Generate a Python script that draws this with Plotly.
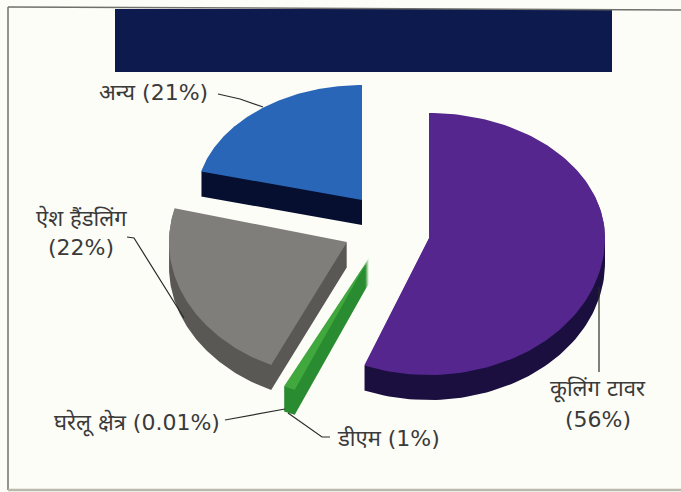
import numpy as np
import plotly.graph_objects as go

# Data
categories = ["कूलिंग टावर", "डीएम", "घरेलू क्षेत्र", "ऐश हैंडलिंग", "अन्य"]
shares = [56, 1, 0.01, 22, 21]
share_labels = ["56%", "1%", "0.01%", "22%", "21%"]

# Styles
top_colors = ["#55268e", "#41a83e", "#41a83e", "#807e7b", "#2a66b8"]
side_colors = ["#1b0f3f", "#2a8c30", "#2a8c30", "#5a5854", "#060f30"]
centres = [(429, 238), (369, 258), (369, 258), (347, 242), (362, 200)]
# horizontal radius, upward radius, downward radius (perspective of the tilted pie)
radii = [(176, 125, 137), (200, 142, 142), (200, 142, 142), (178, 136, 136), (166, 115, 115)]
DEPTH = 25
W, H = 681, 492


def wedge(cx, cy, a, b_up, b_down, start, end, shift=0):
    t = np.radians(np.linspace(start, end, 120))
    c = np.cos(t)
    xs = np.concatenate([[cx], cx + a * np.sin(t), [cx]])
    ys = np.concatenate([[cy], cy - np.where(c > 0, b_up, b_down) * c, [cy]]) + shift
    return xs, ys


fig = go.Figure()
edges = np.cumsum([0] + shares) / sum(shares) * 360

# Extruded sides first, so that no side covers a neighbouring top face
for i, name in enumerate(categories):
    cx, cy = centres[i]
    a, bu, bd = radii[i]
    sx, sy = [], []
    for d in range(1, DEPTH + 1):
        xs, ys = wedge(cx, cy, a, bu, bd, edges[i], edges[i + 1], d)
        sx += list(xs) + [None]
        sy += list(ys) + [None]
    fig.add_trace(go.Scatter(x=sx, y=sy, mode="lines", fill="toself",
                             fillcolor=side_colors[i],
                             line=dict(color=side_colors[i], width=0),
                             hoverinfo="skip", showlegend=False))

for i, name in enumerate(categories):
    cx, cy = centres[i]
    a, bu, bd = radii[i]
    xs, ys = wedge(cx, cy, a, bu, bd, edges[i], edges[i + 1])
    fig.add_trace(go.Scatter(x=xs, y=ys, mode="lines", fill="toself",
                             fillcolor=top_colors[i],
                             line=dict(color=top_colors[i], width=0),
                             name=f"{name} ({share_labels[i]})",
                             hoverinfo="name", showlegend=False))

# Leader lines
leaders = [
    ([218, 240, 263], [94, 99, 107]),
    ([127, 134, 184], [237, 238, 318]),
    ([599, 599], [287, 372]),
    ([225, 285], [420, 409]),
    ([288, 322, 330], [413, 437, 437]),
]
for lx, ly in leaders:
    fig.add_trace(go.Scatter(x=lx, y=ly, mode="lines",
                             line=dict(color="#2a2a2a", width=1.2),
                             hoverinfo="skip", showlegend=False))

FONT = dict(family="DejaVu Sans, Noto Sans, sans-serif", size=22, color="#3a3a3a")
notes = [
    (153, 92, "अन्य (21%)"),
    (81, 218, "ऐश हैंडलिंग"),
    (81, 247, "(22%)"),
    (137, 423, "घरेलू क्षेत्र (0.01%)"),
    (388, 438, "डीएम (1%)"),
    (598, 389, "कूलिंग टावर"),
    (598, 419, "(56%)"),
]
annotations = [dict(x=x, y=y, xref="x", yref="y", text=t, showarrow=False,
                    font=FONT, xanchor="center", yanchor="middle")
               for x, y, t in notes]

FRAME = dict(color="#6f6f6c", width=1.5)
shapes = [
    dict(type="rect", xref="x", yref="y", x0=115, x1=612, y0=9, y1=72,
         fillcolor="#0c1a4e", line=dict(width=0), layer="below"),
    dict(type="line", xref="x", yref="y", x0=8, x1=681, y0=7, y1=10, line=FRAME, layer="below"),
    dict(type="line", xref="x", yref="y", x0=8, x1=8, y0=7, y1=490, line=FRAME, layer="below"),
    dict(type="line", xref="x", yref="y", x0=8, x1=681, y0=490, y1=490,
         line=dict(color="#b9b9ac", width=2.5), layer="below"),
]

fig.update_layout(
    width=W, height=H, margin=dict(l=0, r=0, t=0, b=0),
    paper_bgcolor="#fdfdf7", plot_bgcolor="#fdfdf7",
    xaxis=dict(range=[0, W], visible=False, fixedrange=True),
    yaxis=dict(range=[H, 0], visible=False, fixedrange=True),
    annotations=annotations, shapes=shapes,
)
fig.write_html(
    "out.html",
    config={"displayModeBar": False},
    post_script="document.body.style.margin='0';document.body.style.overflow='hidden';",
)
